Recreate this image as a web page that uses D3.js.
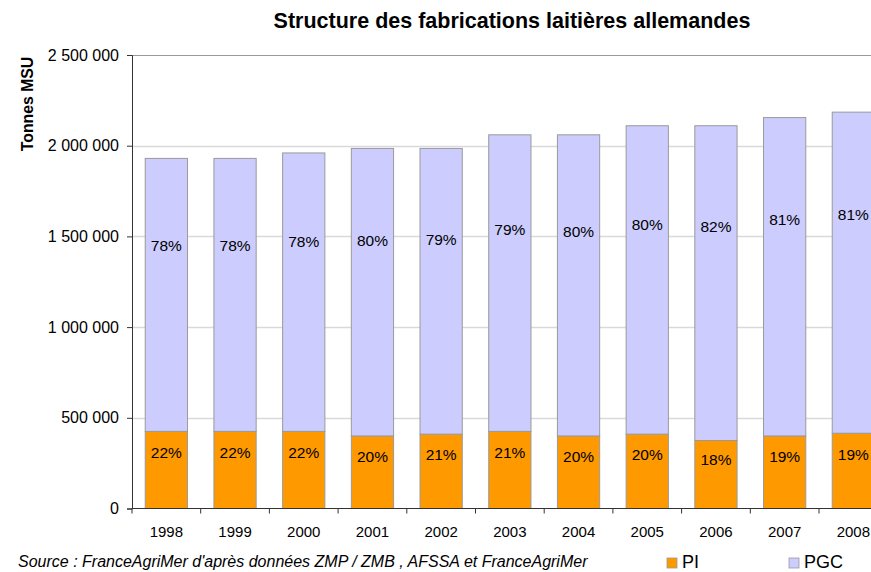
<!DOCTYPE html>
<html>
<head>
<meta charset="utf-8">
<script src="https://cdn.jsdelivr.net/npm/d3@7"></script>
<style>
  body { margin: 0; background: #fff; }
  svg { display: block; font-family: "Liberation Sans", Arial, sans-serif; }
</style>
</head>
<body>
<svg id="chart" width="871" height="572"></svg>
<script>
const years = ["1998", "1999", "2000", "2001", "2002", "2003", "2004", "2005", "2006", "2007", "2008"]
const piValues = [425000, 425000, 425000, 400000, 410000, 425000, 400000, 410000, 375000, 400000, 415000]
const pgcValues = [1505000, 1505000, 1535000, 1585000, 1575000, 1635000, 1660000, 1700000, 1735000, 1755000, 1770000]
const piLabels = ["22%", "22%", "22%", "20%", "21%", "21%", "20%", "20%", "18%", "19%", "19%"]
const pgcLabels = ["78%", "78%", "78%", "80%", "79%", "79%", "80%", "80%", "82%", "81%", "81%"]
const yTicks = [0, 500000, 1000000, 1500000, 2000000, 2500000]
const seriesNames = ["PI", "PGC"]
const colors = ["#FF9900", "#CCCCFF"]

const svg = d3.select("#chart")
const margin = {left: 132, top: 55, bottom: 508.5}
const bandW = 68.7

const x = d3.scaleBand().domain(years)
  .range([margin.left, margin.left + bandW * years.length])
  .paddingInner(0.385).paddingOuter(0.1925)
const y = d3.scaleLinear().domain([0, 2500000]).range([margin.bottom, margin.top])

const fmt = d => d3.format(",")(d).replace(/,/g, " ")

// gridlines
svg.append("g").selectAll("line").data(yTicks.slice(1, -1)).enter().append("line")
  .attr("x1", margin.left).attr("x2", 871)
  .attr("y1", d => Math.round(y(d)) + 0.5).attr("y2", d => Math.round(y(d)) + 0.5)
  .attr("stroke", "#d9d9d9").attr("stroke-width", 1.5)
svg.append("line")
  .attr("x1", margin.left).attr("x2", 871)
  .attr("y1", Math.round(y(2500000)) + 0.5).attr("y2", Math.round(y(2500000)) + 0.5)
  .attr("stroke", "#9a9a9a").attr("stroke-width", 1.2)

// stacked bars
const rows = years.map((yr, i) => ({year: yr, PI: piValues[i], PGC: pgcValues[i]}))
const stack = d3.stack().keys(seriesNames)(rows)

svg.append("g").selectAll("g").data(stack).enter().append("g")
  .attr("fill", (d, i) => colors[i])
  .selectAll("rect").data(d => d).enter().append("rect")
  .attr("x", d => x(d.data.year))
  .attr("width", x.bandwidth())
  .attr("y", d => y(d[1]))
  .attr("height", d => y(d[0]) - y(d[1]))
  .attr("stroke", "#9a9a9a").attr("stroke-width", 1)

// value labels
const lab = svg.append("g").attr("font-size", 15.5).attr("text-anchor", "middle").attr("fill", "#000")
lab.selectAll(".pi").data(years).enter().append("text")
  .attr("x", d => x(d) + x.bandwidth() / 2)
  .attr("y", (d, i) => y(piValues[i] * 0.72))
  .attr("dy", "0.35em")
  .text((d, i) => piLabels[i])
lab.selectAll(".pgc").data(years).enter().append("text")
  .attr("x", d => x(d) + x.bandwidth() / 2)
  .attr("y", (d, i) => y(piValues[i] + pgcValues[i] * 0.68))
  .attr("dy", "0.35em")
  .text((d, i) => pgcLabels[i])

// y axis
const yAxis = svg.append("g").attr("transform", `translate(${margin.left},0)`)
  .call(d3.axisLeft(y).tickValues(yTicks).tickFormat(fmt).tickSize(5).tickPadding(8))
yAxis.select(".domain").attr("stroke", "#333")
yAxis.selectAll(".tick line").attr("stroke", "#333")
yAxis.selectAll("text").attr("font-size", 16).attr("font-family", "Liberation Sans, Arial, sans-serif").attr("fill", "#000")

// x axis
const xAxis = svg.append("g").attr("transform", `translate(0,${margin.bottom})`)
xAxis.append("line").attr("x1", margin.left).attr("x2", 871).attr("stroke", "#333")
xAxis.selectAll(".tk").data(d3.range(years.length + 1)).enter().append("line")
  .attr("x1", i => margin.left + i * bandW).attr("x2", i => margin.left + i * bandW)
  .attr("y1", 0).attr("y2", 5).attr("stroke", "#333")
xAxis.selectAll("text").data(years).enter().append("text")
  .attr("x", d => x(d) + x.bandwidth() / 2).attr("y", 28)
  .attr("text-anchor", "middle").attr("font-size", 15).text(d => d)

// title
svg.append("text").attr("x", 512).attr("y", 28).attr("text-anchor", "middle")
  .attr("font-size", 21.5).attr("font-weight", "bold")
  .text("Structure des fabrications laitières allemandes")

// y label
svg.append("text").attr("transform", "translate(33,104) rotate(-90)")
  .attr("text-anchor", "middle").attr("font-size", 15.8).attr("font-weight", "bold")
  .text("Tonnes MSU")

// source
svg.append("text").attr("x", 18).attr("y", 567).attr("font-size", 16).attr("font-style", "italic")
  .text("Source : FranceAgriMer d'après données ZMP / ZMB , AFSSA et FranceAgriMer")

// legend
const legX = [667, 789]
const leg = svg.append("g").selectAll("g").data(seriesNames).enter().append("g")
  .attr("transform", (d, i) => `translate(${legX[i]},558)`)
leg.append("rect").attr("width", 10).attr("height", 10)
  .attr("fill", (d, i) => colors[i]).attr("stroke", "#9a9a9a").attr("stroke-width", 0.8)
leg.append("text").attr("x", 15).attr("y", 10).attr("font-size", 18).text(d => d)
</script>
</body>
</html>
